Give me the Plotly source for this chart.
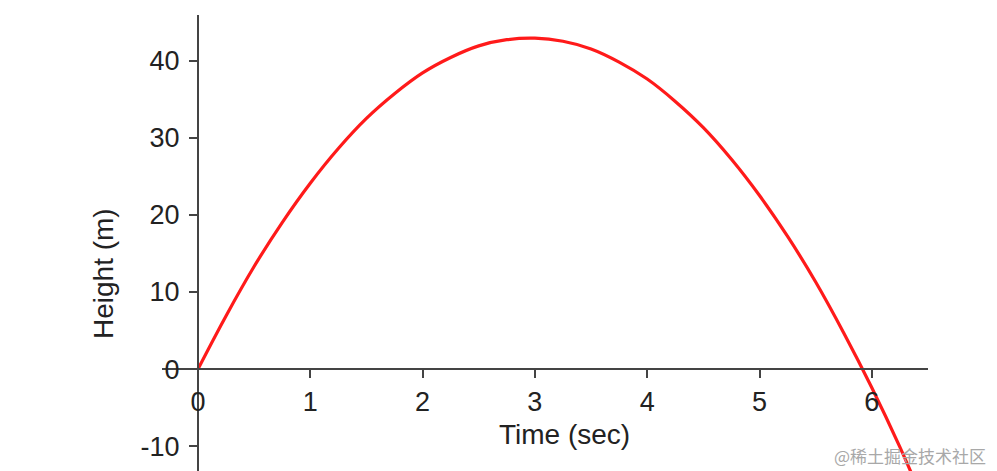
import plotly.graph_objects as go

# Values
time_sec = [0, 0.25, 0.5, 0.75, 1.0, 1.25, 1.5, 1.75, 2.0, 2.25, 2.5, 2.75, 3.0,
            3.25, 3.5, 3.75, 4.0, 4.25, 4.5, 4.75, 5.0, 5.25, 5.5, 5.75, 6.0, 6.25, 6.4]
height_m = [0.0, 6.9, 13.3, 19.0, 24.1, 28.6, 32.5, 35.7, 38.4, 40.4, 41.9, 42.7, 42.9,
            42.5, 41.5, 39.8, 37.6, 34.7, 31.3, 27.2, 22.5, 17.2, 11.3, 4.7, -2.4, -10.1, -15.1]

x_ticks = [0, 1, 2, 3, 4, 5, 6]
y_ticks = [-10, 0, 10, 20, 30, 40]

x_range = [-0.32, 6.5]
y_range = [-13.2, 45.9]

x_title = "Time (sec)"
y_title = "Height (m)"
watermark = "@稀土掘金技术社区"

font_family = "Liberation Sans, Arial, sans-serif"
ink = "#222222"
axis_col = "#444444"

fig = go.Figure()
fig.add_trace(go.Scatter(
    x=time_sec, y=height_m, mode="lines",
    line=dict(color="#ff1a1a", width=3.2, shape="spline"),
    showlegend=False, hoverinfo="skip",
))

# positions of axis lines crossing at the origin (in plot-area fractions)
y_axis_pos = (0 - x_range[0]) / (x_range[1] - x_range[0])
x_axis_pos = (0 - y_range[0]) / (y_range[1] - y_range[0])

fig.update_layout(
    width=997, height=471,
    margin=dict(l=154, r=77, t=7, b=8),
    paper_bgcolor="white", plot_bgcolor="white",
    font=dict(family=font_family, color=ink),
    xaxis=dict(
        range=x_range, anchor="free", position=x_axis_pos,
        showline=True, linecolor=axis_col, linewidth=2,
        ticks="outside", ticklen=8, tickwidth=1.5, tickcolor=axis_col,
        tickvals=x_ticks, ticktext=[str(v) for v in x_ticks],
        tickfont=dict(size=27, color=ink),
        showgrid=False, zeroline=False,
    ),
    yaxis=dict(
        range=y_range, anchor="free", position=y_axis_pos,
        showline=True, linecolor=axis_col, linewidth=2,
        ticks="outside", ticklen=8, tickwidth=1.5, tickcolor=axis_col,
        ticklabelstandoff=4,
        tickvals=y_ticks, ticktext=[str(v) for v in y_ticks],
        tickfont=dict(size=27, color=ink),
        showgrid=False, zeroline=False,
    ),
    annotations=[
        dict(text=x_title, xref="paper", yref="paper", x=0.5255, y=0.081,
             xanchor="center", yanchor="middle", showarrow=False,
             font=dict(size=28, color=ink, family=font_family)),
        dict(text=y_title, xref="paper", yref="paper", x=-0.0764, y=0.433,
             xanchor="center", yanchor="middle", showarrow=False, textangle=-90,
             font=dict(size=28, color=ink, family=font_family)),
        dict(text=watermark, xref="paper", yref="paper", x=0.9765, y=0.035,
             xanchor="center", yanchor="middle", showarrow=False,
             font=dict(size=17, color="#a8a8a8", family="Noto Sans CJK SC")),
    ],
)

fig.write_html("out.html")
